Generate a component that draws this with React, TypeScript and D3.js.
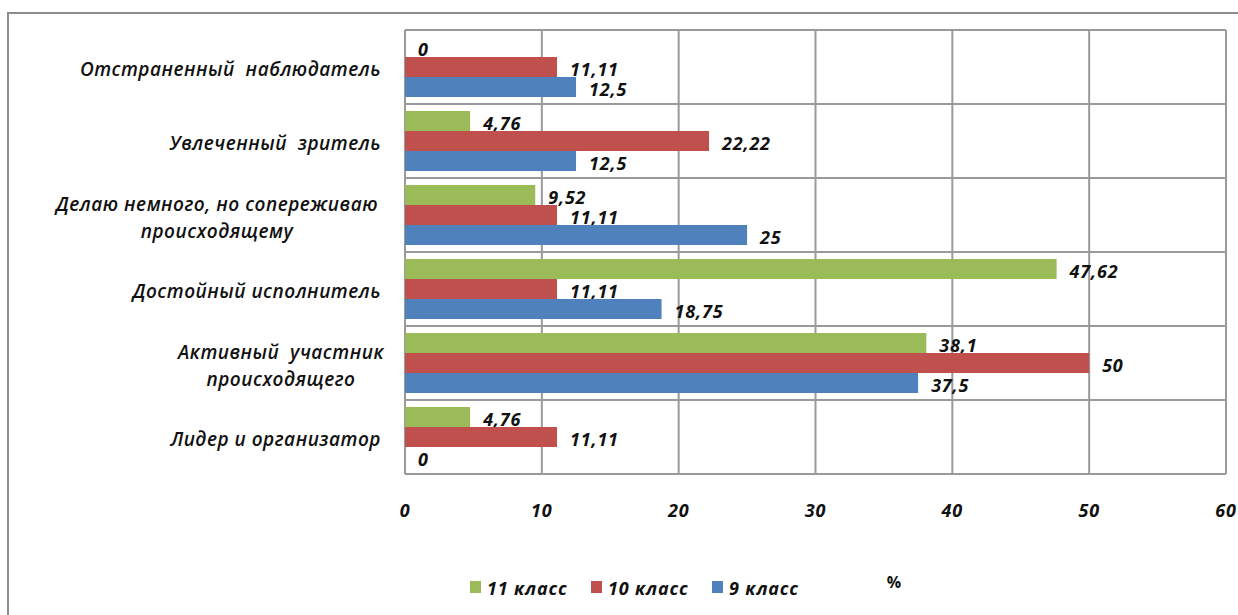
import React from "react";
import * as d3 from "d3";

const categories = [
  ["Отстраненный  наблюдатель"],
  ["Увлеченный  зритель"],
  ["Делаю немного, но сопереживаю", "происходящему"],
  ["Достойный исполнитель"],
  ["Активный  участник", "происходящего"],
  ["Лидер и организатор"],
];
const seriesNames = ["11 класс", "10 класс", "9 класс"];
const seriesColors = ["#9BBB59", "#C0504D", "#4F81BD"];
const grade11 = [0, 4.76, 9.52, 47.62, 38.1, 4.76];
const grade10 = [11.11, 22.22, 11.11, 11.11, 50, 11.11];
const grade9 = [12.5, 12.5, 25, 18.75, 37.5, 0];
const xTicks = [0, 10, 20, 30, 40, 50, 60];
const axisTitle = "%";

const FONT = "'Open Sans', sans-serif";

export default function App() {
  const series = [grade11, grade10, grade9];
  const left = 405, right = 1226, top = 30, bottom = 474;
  const x = d3.scaleLinear().domain([0, 60]).range([left, right]);
  const y = d3.scaleBand<number>().domain(d3.range(categories.length)).range([top, bottom]).padding(0);
  const inner = d3.scaleBand<number>().domain([0, 1, 2]).range([7, y.bandwidth() - 7]).padding(0);
  const fmt = (v: number) => String(v).replace(".", ",");
  const gridColor = "#9a9a9a";
  const valStyle = { fontFamily: FONT, fontStyle: "italic", fontWeight: 700, fontSize: 18, letterSpacing: 0.8 } as any;
  const catStyle = { fontFamily: FONT, fontStyle: "italic", fontWeight: 600, fontSize: 19, letterSpacing: 0.5, whiteSpace: "pre" } as any;

  return (
    <svg width={1238} height={615} style={{ position: "absolute", left: 0, top: 0, background: "#fff" }}>
      <rect x={8} y={13} width={1240} height={620} fill="#fff" stroke="#8c8c8c" strokeWidth={2} />
      {d3.range(categories.length + 1).map((i) => {
        const yy = i < categories.length ? y(i)! : bottom;
        return <line key={"h" + i} x1={left} x2={right} y1={yy} y2={yy} stroke={gridColor} strokeWidth={2} />;
      })}
      {xTicks.map((t) => (
        <line key={"v" + t} x1={x(t)} x2={x(t)} y1={top} y2={bottom} stroke={gridColor} strokeWidth={2} />
      ))}
      {categories.map((c, i) =>
        series.map((s, k) => {
          const by = y(i)! + inner(k)!;
          const h = inner.bandwidth();
          return (
            <g key={`b${i}-${k}`}>
              {s[i] > 0 && (
                <rect x={x(0)} y={by} width={x(s[i]) - x(0)} height={h} fill={seriesColors[k]} />
              )}
              <text x={x(s[i]) + 13} y={by + h / 2 + 2} dominantBaseline="central" style={valStyle} fill="#111">
                {fmt(s[i])}
              </text>
            </g>
          );
        })
      )}
      {categories.map((lines, i) => {
        const cy = y(i)! + y.bandwidth() / 2;
        const lh = 27;
        if (lines.length === 1) {
          return (
            <text key={"c" + i} x={381} y={cy + 2} dominantBaseline="central" textAnchor="end" style={catStyle} fill="#111">
              {lines[0]}
            </text>
          );
        }
        const cx = i === 2 ? 217 : 281;
        return (
          <g key={"c" + i}>
            {lines.map((ln, j) => (
              <text
                key={j}
                x={cx}
                y={cy + (j - (lines.length - 1) / 2) * lh + 2}
                dominantBaseline="central"
                textAnchor="middle"
                style={catStyle}
                fill="#111"
              >
                {ln}
              </text>
            ))}
          </g>
        );
      })}
      {xTicks.map((t) => (
        <text key={"t" + t} x={x(t)} y={510} dominantBaseline="central" textAnchor="middle" style={valStyle} fill="#111">
          {t}
        </text>
      ))}
      {seriesNames.map((n, k) => {
        const lx = [470, 591, 712][k];
        return (
          <g key={"l" + k}>
            <rect x={lx} y={581} width={11} height={12} fill={seriesColors[k]} />
            <text x={lx + 17} y={588} dominantBaseline="central" style={valStyle} fill="#111">
              {n}
            </text>
          </g>
        );
      })}
      <text x={894} y={582} dominantBaseline="central" textAnchor="middle" fontFamily={FONT} fontWeight={700} fontSize={16} fill="#111">
        {axisTitle}
      </text>
    </svg>
  );
}
